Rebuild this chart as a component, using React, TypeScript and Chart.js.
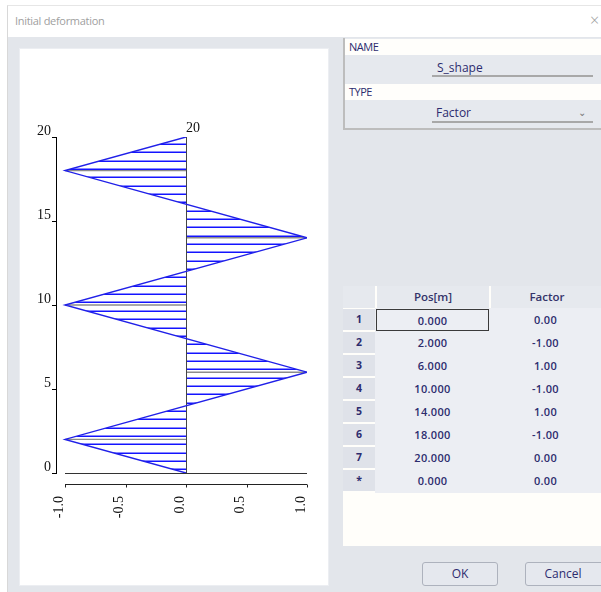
import React, { useEffect, useRef } from "react";
import { Chart, registerables } from "chart.js";

Chart.register(...registerables);

// ---- data ----
const POS_M = [0, 2, 6, 10, 14, 18, 20];
const FACTOR = [0, -1, 1, -1, 1, -1, 0];
const X_TICK_VALUES = [-1, -0.5, 0, 0.5, 1];
const X_TICK_LABELS = ["-1.0", "-0.5", "0.0", "0.5", "1.0"];
const Y_TICK_VALUES = [0, 5, 10, 15, 20];
const Y_TICK_LABELS = ["0", "5", "10", "15", "20"];
const TOP_LABEL = "20";
const NAME_VALUE = "S_shape";
const TYPE_VALUE = "Factor";
const TABLE_HEADERS = ["Pos[m]", "Factor"];

// ---- style constants ----
const SERIF = "'Liberation Serif', 'DejaVu Serif', serif";
const UI = "'Open Sans', 'Noto Sans', sans-serif";
const HATCH_START = 0.22;
const HATCH_STEP = 0.4965;
const HATCH_COLOR = "#1414ff";
const PEAK_COLOR = "#8c8c8c";
const LINE_COLOR = "#2020e8";
const TEXT_NAVY = "#2d2c6e";

const decoPlugin = {
  id: "deco",
  beforeDatasetsDraw(chart: any) {
    const { ctx, chartArea } = chart;
    const xs = chart.scales.x;
    const ys = chart.scales.y;
    const pts = chart.getDatasetMeta(0).data;
    const x0 = xs.getPixelForValue(0);
    const xL = xs.getPixelForValue(-1);
    const xR = xs.getPixelForValue(1);
    const yBottom = ys.getPixelForValue(Math.min(...POS_M));
    const yTop = ys.getPixelForValue(Math.max(...POS_M));

    // hatching, clipped to the area between the curve and the zero line
    ctx.save();
    ctx.beginPath();
    ctx.moveTo(x0, pts[0].y);
    pts.forEach((p: any) => ctx.lineTo(p.x, p.y));
    ctx.lineTo(x0, pts[pts.length - 1].y);
    ctx.closePath();
    ctx.clip();
    ctx.strokeStyle = HATCH_COLOR;
    ctx.lineWidth = 1.5;
    const maxV = Math.max(...POS_M);
    for (let v = HATCH_START; v < maxV; v += HATCH_STEP) {
      const py = Math.round(ys.getPixelForValue(v)) + 0.25;
      ctx.beginPath();
      ctx.moveTo(xL - 2, py);
      ctx.lineTo(xR + 2, py);
      ctx.stroke();
    }
    ctx.restore();

    // gray lines at the peaks
    ctx.save();
    ctx.strokeStyle = PEAK_COLOR;
    ctx.lineWidth = 1.4;
    pts.forEach((p: any, i: number) => {
      if (FACTOR[i] !== 0) {
        ctx.beginPath();
        ctx.moveTo(x0, p.y);
        ctx.lineTo(p.x, p.y);
        ctx.stroke();
      }
    });
    ctx.restore();

    ctx.save();
    ctx.strokeStyle = "#333";
    ctx.lineWidth = 1;
    // zero line
    const yb = Math.round(yBottom) + 0.5;
    ctx.beginPath();
    ctx.moveTo(xL, yb);
    ctx.lineTo(xR, yb);
    ctx.stroke();
    // centre line
    const xc = Math.round(x0) + 0.5;
    ctx.strokeStyle = "#444";
    ctx.beginPath();
    ctx.moveTo(xc, yTop);
    ctx.lineTo(xc, yBottom);
    ctx.stroke();
    // x axis line below the chart
    const ya = Math.round(chartArea.bottom + 11) + 0.5;
    ctx.strokeStyle = "#222";
    ctx.beginPath();
    ctx.moveTo(xL, ya);
    ctx.lineTo(xR, ya);
    ctx.stroke();
    X_TICK_VALUES.forEach((v) => {
      const px = Math.round(xs.getPixelForValue(v)) + 0.5;
      ctx.beginPath();
      ctx.moveTo(px, ya);
      ctx.lineTo(px, ya + 3);
      ctx.stroke();
    });
    // label at top of centre line
    ctx.fillStyle = "#111";
    ctx.font = `14px ${SERIF}`;
    ctx.textAlign = "left";
    ctx.textBaseline = "alphabetic";
    ctx.fillText(TOP_LABEL, x0, yTop - 5);
    ctx.restore();
  },
};

function ChartPanel() {
  const ref = useRef<HTMLCanvasElement | null>(null);
  useEffect(() => {
    if (!ref.current) return;
    const chart = new Chart(ref.current, {
      type: "scatter",
      data: {
        datasets: [
          {
            data: POS_M.map((p, i) => ({ x: FACTOR[i], y: p })),
            showLine: true,
            borderColor: LINE_COLOR,
            borderWidth: 1.4,
            pointRadius: 0,
            tension: 0,
            fill: false,
          },
        ],
      },
      options: {
        animation: false,
        responsive: false,
        events: [],
        layout: { padding: { top: 88, right: 21, left: 0, bottom: 0 } },
        plugins: { legend: { display: false }, tooltip: { enabled: false } },
        scales: {
          x: {
            type: "linear",
            min: -1.0744,
            max: 1,
            afterBuildTicks: (s: any) => {
              s.ticks = X_TICK_VALUES.map((v) => ({ value: v }));
            },
            afterFit: (s: any) => {
              s.height = 112;
              s.paddingLeft = 0;
              s.paddingRight = 0;
            },
            grid: { display: false },
            border: { display: false },
            ticks: {
              autoSkip: false,
              minRotation: 90,
              maxRotation: 90,
              padding: 15,
              labelOffset: -6,
              color: "#111",
              font: { family: SERIF, size: 14 },
              callback: (v: any) => X_TICK_LABELS[X_TICK_VALUES.indexOf(Number(v))],
            },
          },
          y: {
            type: "linear",
            min: 0,
            max: 20,
            afterBuildTicks: (s: any) => {
              s.ticks = Y_TICK_VALUES.map((v) => ({ value: v }));
            },
            afterFit: (s: any) => {
              s.width = 36;
              s.paddingTop = 0;
              s.paddingBottom = 0;
            },
            grid: { drawOnChartArea: false, drawTicks: true, tickLength: 4, color: "#000" },
            border: { display: true, color: "#000", width: 1 },
            ticks: {
              padding: 1,
              labelOffset: -6,
              color: "#111",
              font: { family: SERIF, size: 14 },
              callback: (v: any) => Y_TICK_LABELS[Y_TICK_VALUES.indexOf(Number(v))],
            },
          },
        },
      } as any,
      plugins: [decoPlugin],
    });
    return () => chart.destroy();
  }, []);
  return <canvas ref={ref} width={308} height={536} style={{ display: "block" }} />;
}

const abs = (l: number, t: number, w: number, h: number, extra: any = {}) => ({
  position: "absolute" as const,
  left: l,
  top: t,
  width: w,
  height: h,
  boxSizing: "border-box" as const,
  ...extra,
});

export default function App() {
  const rows = POS_M.map((p, i) => [String(i + 1), p.toFixed(3), FACTOR[i].toFixed(2)]);
  rows.push(["*", (0).toFixed(3), (0).toFixed(2)]);
  const ROW_TOP = 309;
  const ROW_H = 23;
  return (
    <div style={abs(0, 0, 601, 592, { background: "#fff", overflow: "hidden", fontFamily: UI })}>
      {/* dialog frame */}
      <div style={abs(7, 5, 600, 590, { borderLeft: "1px solid #d8d8d8", borderTop: "1px solid #e6e6e6", background: "#fff" })} />
      <div style={abs(15, 12, 200, 18, { fontSize: 11, color: "#a0a0a0", lineHeight: "18px", letterSpacing: -0.3 })}>Initial deformation</div>
      <div style={abs(590, 10, 14, 20, { fontSize: 16, color: "#9a9a9a", lineHeight: "20px", fontWeight: 300 })}>×</div>
      {/* body */}
      <div style={abs(8, 37, 593, 555, { background: "#e3e6eb" })} />
      {/* chart panel */}
      <div style={abs(20, 49, 308, 536, { background: "#fff", outline: "1px solid #eceef2" })}>
        <ChartPanel />
      </div>
      {/* NAME / TYPE box */}
      <div style={abs(343, 38, 260, 92, { borderLeft: "2px solid #bdbdbd", borderBottom: "2px solid #bdbdbd", background: "#e6e9ee" })} />
      <div style={abs(345, 39, 256, 16, { background: "#fffefb" })} />
      <div style={abs(349, 39, 100, 16, { fontSize: 11, color: TEXT_NAVY, lineHeight: "16px", letterSpacing: -0.5 })}>NAME</div>
      <div style={abs(437, 60, 150, 16, { fontSize: 12, color: TEXT_NAVY, lineHeight: "16px" })}>{NAME_VALUE}</div>
      <div style={abs(432, 75, 161, 2, { background: "#a8a8a8" })} />
      <div style={abs(345, 84, 256, 16, { background: "#fffefb" })} />
      <div style={abs(349, 84, 100, 16, { fontSize: 11, color: TEXT_NAVY, lineHeight: "16px", letterSpacing: -0.5 })}>TYPE</div>
      <div style={abs(436, 105, 120, 16, { fontSize: 12, color: TEXT_NAVY, lineHeight: "16px" })}>{TYPE_VALUE}</div>
      <div style={abs(578, 104, 12, 16, { fontSize: 10, color: "#777", lineHeight: "16px" })}>⌄</div>
      <div style={abs(432, 121, 161, 2, { background: "#a8a8a8" })} />
      {/* table */}
      <div style={abs(343, 286, 260, 260, { background: "#fffefa" })} />
      <div style={abs(343, 286, 32, 22, { background: "#e6e9ee" })} />
      <div style={abs(377, 286, 112, 22, { background: "#e6e9ee", fontSize: 11.5, fontWeight: 600, color: "#34336a", textAlign: "center", lineHeight: "22px" })}>{TABLE_HEADERS[0]}</div>
      <div style={abs(491, 286, 112, 22, { background: "#e6e9ee", fontSize: 11.5, fontWeight: 600, color: "#34336a", textAlign: "center", lineHeight: "22px" })}>{TABLE_HEADERS[1]}</div>
      {rows.map((r, i) => (
        <React.Fragment key={i}>
          <div style={abs(343, ROW_TOP + i * ROW_H, 32, ROW_H - 2, { background: "#dfe2e9", fontSize: 10.5, fontWeight: 700, color: TEXT_NAVY, textAlign: "center", lineHeight: `${ROW_H - 2}px` })}>{r[0]}</div>
          <div style={abs(375, ROW_TOP + i * ROW_H - 1, 228, ROW_H + 1, { background: "#eceef3" })} />
          <div style={abs(376, ROW_TOP + i * ROW_H, 113, ROW_H - 1, { fontSize: 11, fontWeight: 600, color: TEXT_NAVY, textAlign: "center", lineHeight: `${ROW_H - 1}px`, letterSpacing: 0.3, border: i === 0 ? "1px solid #3a3a3a" : "none" })}>{r[1]}</div>
          <div style={abs(490, ROW_TOP + i * ROW_H, 111, ROW_H - 1, { fontSize: 11, fontWeight: 600, color: TEXT_NAVY, textAlign: "center", lineHeight: `${ROW_H - 1}px`, letterSpacing: 0.3 })}>{r[2]}</div>
        </React.Fragment>
      ))}
      {/* buttons */}
      <div style={abs(422, 562, 76, 24, { border: "1px solid #adb2bd", borderRadius: 3, background: "#e5e8ee", fontSize: 12, color: TEXT_NAVY, textAlign: "center", lineHeight: "22px" })}>OK</div>
      <div style={abs(525, 562, 80, 24, { border: "1px solid #adb2bd", borderRadius: 3, background: "#e5e8ee", fontSize: 12, color: TEXT_NAVY, textAlign: "center", lineHeight: "22px", paddingRight: 4 })}>Cancel</div>
    </div>
  );
}
